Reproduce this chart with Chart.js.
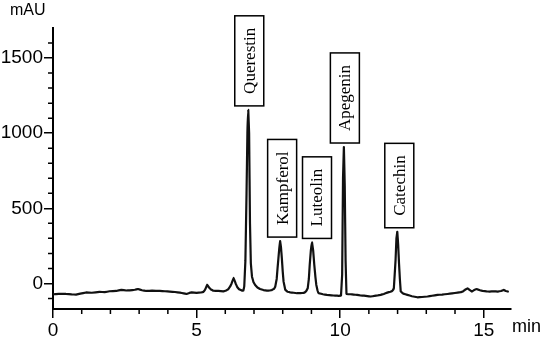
<!DOCTYPE html>
<html>
<head>
<meta charset="utf-8">
<script src="https://cdn.jsdelivr.net/npm/chart.js@4/dist/chart.umd.min.js"></script>
<style>
	body { margin: 0; background: #fff; }
	canvas { display: block; }
</style>
</head>
<body>
<canvas id="chromChart" width="550" height="343"></canvas>
<script>
// Retention time (min) and detector signal (mAU)
const times = [
	0.00, 0.20, 0.45, 0.65, 0.80, 0.95, 1.15, 1.35, 1.62, 1.80,
	1.97, 2.20, 2.38, 2.55, 2.67, 2.85, 2.96, 3.10, 3.25, 3.45,
	3.72, 3.90, 4.07, 4.25, 4.42, 4.55, 4.65, 4.75, 4.83, 5.00,
	5.15, 5.23, 5.30, 5.37, 5.44, 5.50, 5.58, 5.76, 5.93, 6.03,
	6.10, 6.17, 6.22, 6.29, 6.36, 6.42, 6.48, 6.56, 6.63, 6.66,
	6.70, 6.74, 6.77, 6.80, 6.83, 6.86, 6.89, 6.93, 6.98, 7.04,
	7.12, 7.21, 7.33, 7.45, 7.55, 7.62, 7.70, 7.74, 7.79, 7.82,
	7.88, 7.91, 7.94, 7.97, 8.00, 8.03, 8.09, 8.17, 8.26, 8.38,
	8.50, 8.62, 8.73, 8.82, 8.87, 8.91, 8.94, 8.98, 9.02, 9.06,
	9.10, 9.14, 9.17, 9.21, 9.25, 9.40, 9.54, 9.70, 9.83, 9.95,
	10.03, 10.07, 10.10, 10.13, 10.16, 10.19, 10.22, 10.28, 10.36, 10.47,
	10.59, 10.71, 10.83, 10.95, 11.06, 11.20, 11.30, 11.41, 11.52, 11.64,
	11.75, 11.82, 11.87, 11.90, 11.93, 11.96, 11.99, 12.02, 12.05, 12.08,
	12.11, 12.20, 12.34, 12.50, 12.69, 12.85, 13.04, 13.20, 13.39, 13.55,
	13.74, 13.90, 14.09, 14.20, 14.27, 14.35, 14.44, 14.52, 14.59, 14.67,
	14.76, 14.87, 14.97, 15.10, 15.20, 15.35, 15.49, 15.60, 15.70, 15.77,
	15.84
];
const signal = [
	-72, -70, -70, -73, -74, -68, -60, -62, -56, -58,
	-52, -50, -43, -47, -46, -42, -37, -45, -50, -48,
	-50, -52, -54, -57, -61, -66, -70, -63, -59, -63,
	-60, -57, -40, -8, -28, -40, -48, -50, -53, -47,
	-39, -20, 0, 38, 0, -25, -39, -46, -48, -20,
	150, 600, 1000, 1155, 1000, 400, 134, 45, 10, -10,
	-27, -37, -44, -48, -47, -44, -35, -21, 30, 101,
	234, 282, 240, 167, 80, 12, -43, -55, -59, -62,
	-65, -64, -63, -50, -32, 30, 123, 220, 273, 220,
	123, 40, -10, -45, -65, -72, -76, -79, -81, -82,
	-80, 60, 700, 908, 650, 150, -70, -72, -72, -74,
	-76, -80, -81, -84, -87, -83, -80, -76, -70, -61,
	-55, -48, -32, 60, 156, 300, 344, 260, 134, 30,
	-54, -68, -76, -85, -92, -90, -87, -82, -76, -74,
	-70, -66, -61, -58, -54, -42, -32, -45, -54, -44,
	-37, -45, -50, -53, -54, -52, -54, -50, -43, -50,
	-54
];

// Axis ticks
const xTicks = [0, 5, 10, 15];
const xMinorTicks = [1, 2, 3, 4, 6, 7, 8, 9, 11, 12, 13, 14];
const yTicks = [0, 500, 1000, 1500];
const yMinorTicks = [-100, 100, 200, 300, 400, 600, 700, 800, 900, 1100, 1200, 1300, 1400, 1600];

// Peak labels
const peakNames = ['Querestin', 'Kampferol', 'Luteolin', 'Apegenin', 'Catechin'];
const peakTimes = [6.80, 7.91, 9.02, 10.13, 11.99];
const peakHeights = [1155, 282, 273, 908, 344];

const points = times.map((t, i) => ({ x: t, y: signal[i] }));

// Minor ticks, axis units and boxed peak names
const decorPlugin = {
	id: 'decor',
	afterDraw(chart, args, opts) {
		const ctx = chart.ctx;
		const xs = chart.scales.x;
		const ys = chart.scales.y;
		const area = chart.chartArea;
		ctx.save();
		ctx.strokeStyle = '#000';
		ctx.lineWidth = 1.5;
		ctx.beginPath();
		yMinorTicks.forEach(v => {
			const y = ys.getPixelForValue(v);
			ctx.moveTo(area.left - 5, y);
			ctx.lineTo(area.left, y);
		});
		xMinorTicks.forEach(v => {
			const x = xs.getPixelForValue(v);
			ctx.moveTo(x, area.bottom);
			ctx.lineTo(x, area.bottom + 5);
		});
		ctx.stroke();

		ctx.fillStyle = '#000';
		ctx.font = '16px "Liberation Sans"';
		ctx.textAlign = 'left';
		ctx.textBaseline = 'middle';
		ctx.fillText('mAU', 10, 11);
		ctx.font = '18px "Liberation Sans"';
		ctx.fillText('min', area.right + 1, 327);

		// labels in boxes, rotated
		ctx.font = '17px "Liberation Serif"';
		peakNames.forEach((name, i) => {
			const px = xs.getPixelForValue(peakTimes[i]) + opts.nudge[i];
			const py = ys.getPixelForValue(peakHeights[i]);
			const w = ctx.measureText(name).width;
			const boxH = w + 24;
			const boxW = 29;
			const bottom = py - 4;
			ctx.fillStyle = '#fff';
			ctx.fillRect(px - boxW / 2, bottom - boxH, boxW, boxH);
			ctx.lineWidth = 1.5;
			ctx.strokeRect(px - boxW / 2, bottom - boxH, boxW, boxH);
			ctx.save();
			ctx.translate(px, bottom - boxH / 2);
			ctx.rotate(-Math.PI / 2);
			ctx.fillStyle = '#000';
			ctx.textAlign = 'center';
			ctx.textBaseline = 'middle';
			ctx.fillText(name, 0, 1);
			ctx.restore();
		});
		ctx.restore();
	}
};

const tickFont = { family: '"Liberation Sans"', size: 19 };

new Chart(document.getElementById('chromChart').getContext('2d'), {
	type: 'line',
	data: {
		datasets: [{
			data: points,
			borderColor: '#111',
			borderWidth: 2.2,
			borderJoinStyle: 'round',
			borderCapStyle: 'round',
			pointRadius: 0,
			fill: false,
			// tiny tension avoids the per-pixel fast path (it leaves split peaks)
			tension: 0.01
		}]
	},
	options: {
		responsive: false,
		animation: false,
		layout: { padding: { top: 28, right: 39, left: 0, bottom: 0 } },
		plugins: {
			legend: { display: false },
			tooltip: { enabled: false },
			decor: { nudge: [1, 2, 5, 1, 2] }
		},
		scales: {
			x: {
				type: 'linear',
				min: 0,
				max: 15.95,
				afterBuildTicks: s => { s.ticks = xTicks.map(v => ({ value: v })); },
				afterFit: s => { s.height = 34; },
				grid: { drawOnChartArea: false, drawTicks: true, tickLength: 9, color: '#000', lineWidth: 1.5 },
				border: { display: true, color: '#000', width: 2 },
				ticks: { color: '#000', font: tickFont, padding: 1, maxRotation: 0, autoSkip: false, callback: v => String(v) }
			},
			y: {
				type: 'linear',
				min: -170,
				max: 1700,
				afterBuildTicks: s => { s.ticks = yTicks.map(v => ({ value: v })); },
				afterFit: s => { s.width = 53; },
				grid: { drawOnChartArea: false, drawTicks: true, tickLength: 9, color: '#000', lineWidth: 1.5 },
				border: { display: true, color: '#000', width: 2 },
				ticks: { color: '#000', font: tickFont, padding: 1, callback: v => String(v) }
			}
		}
	},
	plugins: [decorPlugin]
});
</script>
</body>
</html>
